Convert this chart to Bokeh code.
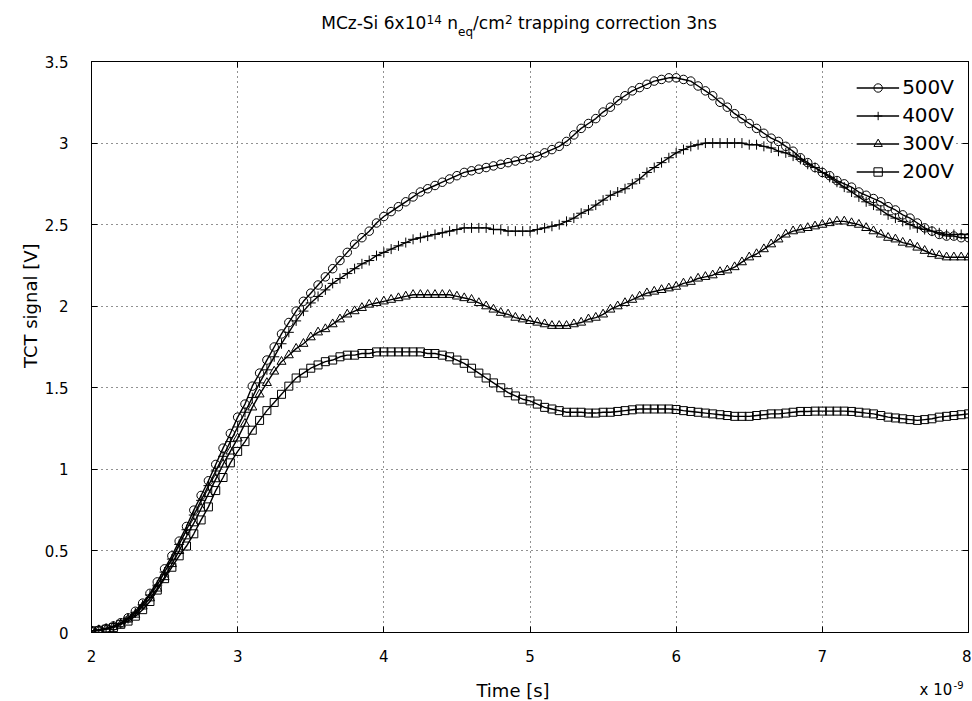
import numpy as np
from bokeh.plotting import figure
from bokeh.layouts import row, column
from bokeh.models import (Range1d, LinearAxis, FixedTicker, Label, Legend,
                          LegendItem, CustomJSTickFormatter)
from bokeh.embed import file_html
from bokeh.resources import INLINE

# ---------------- data ----------------
time_ns = np.round(np.linspace(2.0, 8.0, 121), 2)

v500 = [0.01, 0.015, 0.025, 0.04, 0.06, 0.09, 0.13, 0.18, 0.24, 0.31,
        0.39, 0.47, 0.56, 0.65, 0.75, 0.84, 0.93, 1.03, 1.13, 1.22,
        1.32, 1.40, 1.51, 1.59, 1.67, 1.75, 1.83, 1.90, 1.97, 2.03,
        2.08, 2.13, 2.18, 2.23, 2.28, 2.33, 2.38, 2.42, 2.46, 2.51,
        2.55, 2.58, 2.61, 2.64, 2.67, 2.70, 2.72, 2.74, 2.76, 2.78,
        2.80, 2.82, 2.83, 2.84, 2.85, 2.86, 2.87, 2.88, 2.89, 2.90,
        2.91, 2.92, 2.94, 2.96, 2.98, 3.01, 3.05, 3.09, 3.12, 3.15,
        3.19, 3.22, 3.26, 3.29, 3.32, 3.34, 3.36, 3.38, 3.39, 3.40,
        3.40, 3.39, 3.38, 3.35, 3.32, 3.29, 3.25, 3.22, 3.18, 3.15,
        3.12, 3.09, 3.06, 3.03, 3.01, 2.98, 2.95, 2.91, 2.88, 2.85,
        2.82, 2.80, 2.77, 2.75, 2.73, 2.70, 2.68, 2.66, 2.64, 2.61,
        2.59, 2.56, 2.54, 2.51, 2.48, 2.46, 2.44, 2.43, 2.43, 2.42,
        2.42]

v400 = [0.01, 0.015, 0.025, 0.035, 0.055, 0.085, 0.12, 0.17, 0.23, 0.29,
        0.37, 0.45, 0.54, 0.63, 0.72, 0.81, 0.90, 0.99, 1.08, 1.17,
        1.26, 1.35, 1.44, 1.53, 1.61, 1.69, 1.77, 1.84, 1.91, 1.97,
        2.02, 2.06, 2.10, 2.14, 2.17, 2.20, 2.23, 2.26, 2.28, 2.31,
        2.33, 2.35, 2.37, 2.39, 2.41, 2.42, 2.43, 2.44, 2.45, 2.46,
        2.47, 2.48, 2.48, 2.48, 2.48, 2.47, 2.47, 2.46, 2.46, 2.46,
        2.46, 2.47, 2.48, 2.49, 2.50, 2.52, 2.54, 2.57, 2.59, 2.62,
        2.65, 2.68, 2.70, 2.72, 2.75, 2.78, 2.82, 2.85, 2.88, 2.91,
        2.94, 2.96, 2.98, 2.99, 3.00, 3.00, 3.00, 3.00, 3.00, 3.00,
        2.99, 2.99, 2.98, 2.97, 2.95, 2.94, 2.92, 2.90, 2.87, 2.85,
        2.82, 2.79, 2.76, 2.73, 2.70, 2.67, 2.64, 2.62, 2.59, 2.56,
        2.54, 2.52, 2.50, 2.48, 2.47, 2.46, 2.45, 2.44, 2.44, 2.44,
        2.44]

v300 = [0.01, 0.015, 0.02, 0.035, 0.05, 0.08, 0.11, 0.16, 0.21, 0.27,
        0.34, 0.42, 0.50, 0.59, 0.67, 0.76, 0.85, 0.94, 1.03, 1.11,
        1.19, 1.28, 1.38, 1.46, 1.53, 1.60, 1.66, 1.70, 1.74, 1.77,
        1.81, 1.84, 1.86, 1.89, 1.92, 1.95, 1.97, 1.99, 2.01, 2.02,
        2.03, 2.04, 2.05, 2.06, 2.07, 2.07, 2.07, 2.07, 2.07, 2.07,
        2.06, 2.05, 2.04, 2.02, 2.00, 1.98, 1.96, 1.95, 1.93, 1.92,
        1.91, 1.90, 1.89, 1.88, 1.88, 1.88, 1.89, 1.90, 1.92, 1.93,
        1.95, 1.98, 2.00, 2.02, 2.04, 2.06, 2.08, 2.09, 2.10, 2.11,
        2.12, 2.14, 2.15, 2.17, 2.18, 2.19, 2.21, 2.22, 2.24, 2.27,
        2.30, 2.32, 2.35, 2.38, 2.41, 2.44, 2.46, 2.47, 2.48, 2.49,
        2.50, 2.51, 2.52, 2.52, 2.51, 2.50, 2.48, 2.46, 2.44, 2.42,
        2.41, 2.39, 2.38, 2.36, 2.34, 2.32, 2.31, 2.30, 2.30, 2.30,
        2.30]

v200 = [0.01, 0.01, 0.02, 0.03, 0.05, 0.07, 0.10, 0.14, 0.19, 0.26,
        0.33, 0.40, 0.47, 0.53, 0.605, 0.69, 0.77, 0.87, 0.95, 1.04,
        1.11, 1.17, 1.24, 1.30, 1.36, 1.41, 1.46, 1.51, 1.56, 1.59,
        1.62, 1.64, 1.66, 1.67, 1.69, 1.70, 1.70, 1.71, 1.71, 1.72,
        1.72, 1.72, 1.72, 1.72, 1.72, 1.72, 1.71, 1.71, 1.70, 1.69,
        1.67, 1.65, 1.62, 1.59, 1.56, 1.53, 1.50, 1.47, 1.45, 1.43,
        1.42, 1.40, 1.38, 1.37, 1.36, 1.35, 1.35, 1.35, 1.345, 1.345,
        1.35, 1.35, 1.355, 1.36, 1.365, 1.37, 1.37, 1.37, 1.37, 1.37,
        1.367, 1.36, 1.355, 1.35, 1.345, 1.34, 1.335, 1.33, 1.325, 1.325,
        1.325, 1.33, 1.335, 1.34, 1.34, 1.345, 1.35, 1.355, 1.355, 1.357,
        1.357, 1.357, 1.357, 1.357, 1.355, 1.35, 1.345, 1.34, 1.33, 1.32,
        1.315, 1.31, 1.305, 1.30, 1.305, 1.31, 1.32, 1.325, 1.33, 1.335,
        1.34]

series_labels = ["500V", "400V", "300V", "200V"]
series_values = [v500, v400, v300, v200]
series_markers = ["circle", "cross", "triangle", "square"]
marker_sizes = [8.5, 10, 9, 8]

x_ticks = [2, 3, 4, 5, 6, 7, 8]
x_tick_labels = ["2", "3", "4", "5", "6", "7", "8"]
y_ticks = [0, 0.5, 1, 1.5, 2, 2.5, 3, 3.5]
y_tick_labels = ["0", "0.5", "1", "1.5", "2", "2.5", "3", "3.5"]

# ---------------- layout (page pixels) ----------------
FONT = "DejaVu Sans"
LW = 41                    # left strip width (y-axis title)
CW = 930                   # central column width
TH, PH, BH = 44, 624, 32   # title strip, main plot, bottom strip heights
FL, FR, FT, FB = 90, 968, 61, 632   # plot frame in page pixels
ML, MR = FL - LW, LW + CW - FR
MT, MB = FT - TH, TH + PH - FB
DESC = 0.24                # descent of the font, in em


def strip(w, h, xr, yr):
    f = figure(width=w, height=h, output_backend="svg", toolbar_location=None,
               x_range=Range1d(*xr), y_range=Range1d(*yr),
               x_axis_type=None, y_axis_type=None,
               min_border=0, min_border_left=0, min_border_right=0,
               min_border_top=0, min_border_bottom=0)
    f.outline_line_color = None
    f.background_fill_color = "white"
    f.border_fill_color = "white"
    f.grid.visible = False
    return f


def put(f, text, x, baseline_y, size_px, **kw):
    """Place text with its baseline at baseline_y (page pixels)."""
    if "text_baseline" in kw:
        y = baseline_y
    else:
        kw["text_baseline"] = "bottom"
        y = baseline_y + DESC * size_px
    f.add_layout(Label(x=x, y=y, text=text, text_font=FONT,
                       text_font_size=f"{size_px}px", text_color="black",
                       **kw))


# ---------------- main plot ----------------
p = figure(width=CW, height=PH, output_backend="svg", toolbar_location=None,
           x_range=Range1d(2, 8), y_range=Range1d(0, 3.5),
           min_border_left=ML, min_border_right=MR,
           min_border_top=MT, min_border_bottom=MB)
p.background_fill_color = "white"
p.border_fill_color = "white"
p.outline_line_color = "black"
p.outline_line_width = 1

for ax, ticks, labels in ((p.xaxis[0], x_ticks, x_tick_labels),
                          (p.yaxis[0], y_ticks, y_tick_labels)):
    ax.ticker = FixedTicker(ticks=ticks)
    ax.major_label_overrides = {t: l for t, l in zip(ticks, labels)}
    ax.major_tick_in = 6
    ax.major_tick_out = 0
    ax.minor_tick_line_color = None
    ax.axis_line_color = "black"
    ax.major_tick_line_color = "black"
    ax.major_label_text_font = FONT
    ax.major_label_text_font_size = "15px"
    ax.major_label_text_color = "black"
    ax.axis_label_standoff = 0
p.xaxis[0].major_label_standoff = 17
p.yaxis[0].major_label_standoff = 23

# mirrored inward ticks on top and right
for loc, ticks in (("above", x_ticks), ("right", y_ticks)):
    ax = LinearAxis(ticker=FixedTicker(ticks=ticks),
                    formatter=CustomJSTickFormatter(code="return ''"),
                    major_tick_in=6, major_tick_out=0,
                    minor_tick_line_color=None, axis_line_color="black",
                    major_label_standoff=0, axis_label_standoff=0,
                    major_label_text_font_size="1px")
    p.add_layout(ax, loc)

for g, ticks in ((p.xgrid[0], x_ticks), (p.ygrid[0], y_ticks)):
    g.ticker = FixedTicker(ticks=ticks)
    g.grid_line_color = "#222222"
    g.grid_line_dash = "1 4"
    g.grid_line_width = 1

items = []
for lab, vals, mk, ms in zip(series_labels, series_values, series_markers,
                             marker_sizes):
    r_line = p.line(time_ns, vals, line_color="black", line_width=1.4)
    r_mk = p.scatter(time_ns, vals, marker=mk, size=ms,
                     fill_color=None, line_color="black", line_width=1)
    items.append(LegendItem(label=lab, renderers=[r_line, r_mk]))

legend = Legend(items=items, location="top_right",
                border_line_color=None, background_fill_color="white",
                background_fill_alpha=1.0,
                label_text_font=FONT, label_text_font_size="20px",
                label_text_color="black",
                glyph_width=43, glyph_height=21, label_height=21,
                label_standoff=3, spacing=4, padding=6, margin=14)
p.add_layout(legend)

# ---------------- title strip (frame aligned with the plot frame) ----------------
top = strip(CW, TH, (FL, FR), (TH, 0))
TS, SS = 17, 12
put(top, "MCz-Si 6x10", 320, 28.3, TS)
put(top, "14", 425.5, 20.7, SS)
put(top, "n", 446.1, 28.3, TS)
put(top, "eq", 457, 35.5, SS)
put(top, "/cm", 472, 28.3, TS)
put(top, "2", 504, 20.7, SS)
put(top, "trapping correction 3ns", 517.1, 28.3, TS)

# ---------------- bottom strip: x-axis title and exponent ----------------
Y_BOT = TH + PH
bot = strip(CW, BH, (FL, FR), (Y_BOT + BH, Y_BOT))
put(bot, "Time [s]", 512, 690, 18, text_align="center",
    text_baseline="middle")
put(bot, "x 10", 919, 695, 15)
put(bot, "-9", 953, 686, 10)

# ---------------- left strip: y-axis title (vertically aligned with frame) ----------------
left = strip(LW, TH + PH + BH, (0, LW), (FB, FT))
put(left, "TCT signal [V]", 30, 310, 18, angle=np.pi / 2,
    text_align="center", text_baseline="middle")

layout = row(left, column(top, p, bot, spacing=0), spacing=0)
open("out.html", "w").write(file_html(layout, INLINE))
